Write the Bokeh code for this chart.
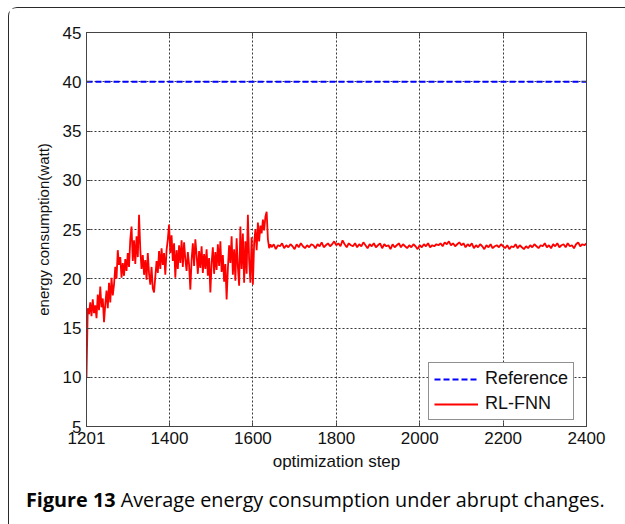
from bokeh.plotting import figure
from bokeh.models import (Range1d, FixedTicker, LinearAxis, Legend, LegendItem, Div)
from bokeh.layouts import column
from bokeh.embed import file_html
from bokeh.resources import INLINE

# ---------------- data ----------------
x_ticks = [1201, 1400, 1600, 1800, 2000, 2200, 2400]
y_ticks = [5, 10, 15, 20, 25, 30, 35, 40, 45]

ref_steps = [1201, 2400]
ref_values = [40.0, 40.0]

# RL-FNN, transient part (every 3 steps, 1201..1642)
rl_steps_a = list(range(1201, 1643, 3))
rl_values_a = [
    10.0, 17.0, 16.4, 17.6, 16.2, 17.9, 16.5, 17.3, 16.0, 18.4,
    16.8, 19.2, 17.1, 18.0, 15.6, 17.4, 18.8, 17.0, 19.6, 17.6,
    20.1, 18.3, 19.4, 21.2, 20.0, 22.9, 21.4, 22.2, 20.1, 21.6,
    20.3, 22.0, 20.8, 22.6, 21.2, 24.0, 25.3, 21.8, 23.9, 21.5,
    24.3, 22.2, 26.5, 23.0, 21.0, 22.4, 20.4, 21.9, 19.9, 22.6,
    20.5, 19.4, 21.2, 19.0, 18.6, 20.2, 21.8, 20.6, 22.8, 21.0,
    23.1, 21.4, 22.6, 20.4, 22.9, 24.0, 25.5, 22.6, 24.4, 21.8,
    23.6, 20.1, 22.9, 21.0, 23.4, 21.6, 23.9, 21.2, 23.7, 22.0,
    20.8, 22.7, 21.4, 18.9, 21.9, 23.6, 21.3, 24.0, 22.4, 20.5,
    22.8, 21.1, 23.3, 20.6, 22.5, 21.0, 23.0, 20.3, 22.1, 18.6,
    21.6, 23.2, 20.5, 22.7, 20.9, 23.5, 21.3, 23.8, 20.7, 22.4,
    19.7, 21.5, 17.9, 21.0, 23.4, 21.6, 24.3, 20.4, 23.0, 19.8,
    24.1, 21.2, 19.3, 25.3, 21.0, 24.6, 19.6, 23.8, 20.5, 26.5,
    21.9, 19.6, 24.2, 19.4, 23.6, 25.0, 22.9, 25.7, 23.8, 25.4,
    24.6, 26.0, 24.9, 26.3, 26.8, 24.0, 23.1, 23.5,
]

# RL-FNN, settled part (every 5 steps, 1645..2395, then 2400)
rl_steps_b = list(range(1645, 2400, 5)) + [2400]
rl_values_b = [
    23.2, 23.5, 23.0, 23.4, 23.3, 23.6, 23.1, 23.4, 23.2, 23.5,
    23.3, 23.0, 23.5, 23.2, 23.6, 23.3, 23.1, 23.4, 23.2, 23.5,
    23.4, 23.1, 23.5, 23.3, 23.7, 23.2, 23.4, 23.6, 23.3, 23.5,
    23.8, 23.4, 23.6, 23.3, 23.9, 23.5, 23.2, 23.6, 23.4, 23.3,
    23.6, 23.2, 23.5, 23.3, 23.7, 23.4, 23.1, 23.5, 23.3, 23.6,
    23.2, 23.4, 23.6, 23.1, 23.5, 23.3, 23.4, 23.0, 23.5, 23.2,
    23.4, 23.6, 23.2, 23.5, 23.3, 23.1, 23.4, 23.2, 23.5, 23.3,
    23.0, 23.4, 23.2, 23.5, 23.3, 23.6, 23.2, 23.4, 23.3, 23.5,
    23.4, 23.6, 23.3, 23.7, 23.5, 23.8, 23.4, 23.6, 23.3, 23.5,
    23.7, 23.4, 23.6, 23.2, 23.5, 23.3, 23.6, 23.1, 23.4, 23.2,
    23.5, 23.3, 23.0, 23.4, 23.2, 23.5, 23.1, 23.3, 23.4, 23.2,
    23.5, 23.3, 23.1, 23.4, 23.0, 23.3, 23.2, 23.5, 23.1, 23.4,
    23.2, 23.0, 23.3, 23.1, 23.4, 23.2, 23.5, 23.3, 23.1, 23.4,
    23.3, 23.6, 23.2, 23.4, 23.1, 23.5, 23.3, 23.6, 23.2, 23.4,
    23.5, 23.2, 23.6, 23.3, 23.4, 23.1, 23.5, 23.7, 23.3, 23.5,
    23.4, 23.6,
]

rl_steps = rl_steps_a + rl_steps_b
rl_values = rl_values_a + rl_values_b

x_label = "optimization step"
y_label = "energy consumption(watt)"
caption_bold = "Figure 13"
caption_rest = "Average energy consumption under abrupt changes."

TICK_FONT = "Liberation Sans"
GRID_COLOR = "#222222"
AX_COLOR = "#444444"

# ---------------- figure ----------------
p = figure(width=612, height=472, output_backend="svg", toolbar_location=None,
           x_range=Range1d(1201, 2400), y_range=Range1d(5, 45),
           min_border_left=77, min_border_right=35, min_border_top=24, min_border_bottom=54)
p.background_fill_color = "white"
p.border_fill_color = "white"
p.outline_line_color = AX_COLOR
p.outline_line_width = 1

for ax in (p.xaxis[0], p.yaxis[0]):
    ax.major_tick_in = 4
    ax.major_tick_out = 0
    ax.minor_tick_line_color = None
    ax.axis_line_color = AX_COLOR
    ax.major_tick_line_color = AX_COLOR
    ax.major_label_text_font = TICK_FONT
    ax.major_label_text_font_size = "17px"
    ax.major_label_text_color = "#111111"
    ax.axis_label_text_font = TICK_FONT
    ax.axis_label_text_font_style = "normal"
    ax.axis_label_text_color = "#111111"
    ax.major_label_standoff = 5

p.xaxis[0].ticker = FixedTicker(ticks=x_ticks)
p.xaxis[0].major_label_overrides = {t: str(t) for t in x_ticks}
p.xaxis[0].axis_label = x_label
p.xaxis[0].axis_label_text_font_size = "17px"
p.xaxis[0].axis_label_standoff = 5

p.yaxis[0].ticker = FixedTicker(ticks=y_ticks)
p.yaxis[0].major_label_overrides = {t: str(t) for t in y_ticks}
p.yaxis[0].axis_label = y_label
p.yaxis[0].axis_label_text_font_size = "15px"
p.yaxis[0].axis_label_standoff = 8

# ticks on top and right (inside), no labels
top_ax = LinearAxis(ticker=FixedTicker(ticks=x_ticks))
right_ax = LinearAxis(ticker=FixedTicker(ticks=y_ticks))
for ax, ticks in ((top_ax, x_ticks), (right_ax, y_ticks)):
    ax.major_tick_in = 4
    ax.major_tick_out = 0
    ax.minor_tick_line_color = None
    ax.axis_line_color = AX_COLOR
    ax.major_tick_line_color = AX_COLOR
    ax.major_label_overrides = {t: "" for t in ticks}
    ax.major_label_text_font_size = "0px"
    ax.major_label_standoff = 0
p.add_layout(top_ax, "above")
p.add_layout(right_ax, "right")

p.xgrid.ticker = FixedTicker(ticks=x_ticks)
p.ygrid.ticker = FixedTicker(ticks=y_ticks)
for g in (p.xgrid[0], p.ygrid[0]):
    g.grid_line_color = GRID_COLOR
    g.grid_line_dash = "2 2"
    g.grid_line_width = 1
    g.grid_line_alpha = 0.9

r_ref = p.line(ref_steps, ref_values, line_color="#0000ff", line_width=2, line_dash="6 3")
r_rl = p.line(rl_steps, rl_values, line_color="#ff0000", line_width=1.8)

legend = Legend(items=[LegendItem(label="Reference", renderers=[r_ref]),
                       LegendItem(label="RL-FNN", renderers=[r_rl])],
                location=(342, 6))
legend.margin = 0
legend.padding = 5
legend.spacing = 4
legend.glyph_width = 44
legend.glyph_height = 20
legend.label_height = 20
legend.label_standoff = 7
legend.label_text_font = TICK_FONT
legend.label_text_font_size = "18px"
legend.label_text_color = "#111111"
legend.border_line_color = "#222222"
legend.border_line_width = 1
legend.background_fill_color = "white"
legend.background_fill_alpha = 1
p.add_layout(legend)

# caption below the chart
caption = Div(
    text=('<div style="padding:1px 0 0 12px; font-family:\'Open Sans\', sans-serif; '
          'font-size:19.8px; color:#050505; white-space:nowrap;">'
          '<b>' + caption_bold + '</b> ' + caption_rest + '</div>'),
    width=612, height=36)

layout = column(p, caption, spacing=0, margin=(7, 0, 0, 8),
                styles={"border-top": "1.5px solid #2a2a2a",
                        "border-left": "1.5px solid #2a2a2a",
                        "border-top-left-radius": "9px",
                        "background-color": "white"})

open("out.html", "w").write(file_html(layout, INLINE))
